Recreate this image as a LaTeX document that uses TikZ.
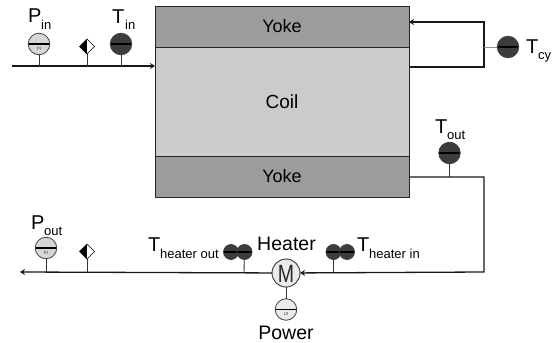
\documentclass[tikz,border=0pt]{standalone}
\usepackage{fontspec}
\setmainfont{Liberation Sans}
\usetikzlibrary{arrows.meta,shapes.geometric}
\definecolor{yokec}{HTML}{9C9C9C}
\definecolor{coilc}{HTML}{CBCBCB}
\definecolor{darkg}{HTML}{3C3C3C}
\definecolor{lightg}{HTML}{D6D6D6}
\tikzset{
  pipeline/.style={draw=black!90,line width=1.3pt},
  flowline/.style={pipeline,-{Stealth[length=5pt,width=6pt]}},
  stemline/.style={draw=black!80,line width=0.9pt},
  magnetbox/.style={draw=black!85,line width=1pt,inner sep=0pt,outer sep=0pt,font=\fontsize{18}{18}\selectfont},
  gaugebase/.style={circle,draw=black!75,line width=0.8pt,inner sep=0pt,outer sep=0pt,
    path picture={\draw[black,line width=1.1pt] (path picture bounding box.west) -- (path picture bounding box.east);}},
  bigtext/.style={inner sep=0pt,font=\fontsize{20}{20}\selectfont},
  subtext/.style={inner sep=0pt,font=\fontsize{13}{13}\selectfont},
  nametext/.style={inner sep=0pt,font=\fontsize{19.5}{20}\selectfont},
  tagtext/.style={inner sep=0pt,text=black!75,font=\fontsize{4.5}{5}\selectfont},
  gaugep/.style={gaugebase,fill=lightg,minimum size=21.5pt},
  gauget/.style={gaugebase,fill=darkg,minimum size=21.5pt},
  gaugets/.style={gaugebase,fill=darkg,minimum size=15pt},
  valvebox/.style={diamond,draw=black,line width=0.6pt,fill=white,minimum size=15pt,inner sep=0pt,outer sep=0pt,
    path picture={\fill[black] (path picture bounding box.north) -- (path picture bounding box.south) -- (path picture bounding box.south west) -- (path picture bounding box.north west) -- cycle;}},
}
\begin{document}
\begin{tikzpicture}[x=1pt,y=-1pt]
\useasboundingbox (0,0) rectangle (555,343);
% magnet
\node[magnetbox,fill=yokec,minimum width=254pt,minimum height=41pt] (yoketop) at (282,26.5) {Yoke};
\node[magnetbox,fill=coilc,minimum width=254pt,minimum height=109pt] (coil) at (282,101.5) {\fontsize{19}{19}\selectfont Coil};
\node[magnetbox,fill=yokec,minimum width=254pt,minimum height=41pt] (yokebot) at (282,176.5) {Yoke};
% free ends and junctions
\coordinate (inlet) at (12,66);
\coordinate (inend) at (155,66);
\coordinate (j1) at (39,66);
\coordinate (j2) at (87,66);
\coordinate (j3) at (121,66);
\coordinate (retTop) at (409,22);
\coordinate (retBot) at (409,67);
\coordinate (cornerTop) at (484,22);
\coordinate (cornerBot) at (484,67);
\coordinate (cyj) at (484,47);
\coordinate (outStart) at (409,177);
\coordinate (outj) at (449.5,177);
\coordinate (c1) at (484,177);
\coordinate (c2) at (484,272);
\coordinate (outlet) at (20,272);
\coordinate (j4) at (46,272);
\coordinate (j5) at (87,272);
\coordinate (j6) at (244,272);
\coordinate (j7) at (333.5,272);
% instruments
\node[gaugep] (pin) at (39,44) {}; \node[tagtext] at (39,49) {PI};
\node[valvebox] (vin) at (87,46.5) {};
\node[gauget] (tin) at (121,44) {}; \node[tagtext] at (121,49) {TI};
\node[gauget] (tcy) at (508,47) {}; \node[tagtext] at (508,52) {TI};
\node[gauget] (tout) at (449.5,153) {}; \node[tagtext] at (449.5,158) {TI};
\node[gaugep] (pout) at (46,248) {}; \node[tagtext] at (46,253) {PI};
\node[valvebox] (vout) at (87,251.5) {};
\node[gaugets] (tho2) at (231,252) {};  \node[tagtext] at (231,256) {TI};
\node[gaugets] (tho1) at (244.5,252) {}; \node[tagtext] at (244.5,256) {TI};
\node[gaugets] (thi1) at (333.5,252) {}; \node[tagtext] at (333.5,256) {TI};
\node[gaugets] (thi2) at (347,252) {};  \node[tagtext] at (347,256) {TUI};
\node[circle,draw=black!80,fill=black!8,line width=0.9pt,minimum size=28pt,inner sep=0pt,outer sep=0pt] (heater) at (286,273) {};
\node[inner sep=0pt,xscale=0.78,text=black!85,font=\fontsize{25}{25}\selectfont] at (286,273.5) {M};
\node[gaugebase,fill=black!8,minimum size=21.5pt] (power) at (286,309.5) {}; \node[tagtext] at (286,314) {UI};
% connectors
\draw[flowline] (inlet) -- (inend);
\draw[stemline] (pin) -- (j1);
\draw[stemline] (vin) -- (j2);
\draw[stemline] (tin) -- (j3);
\draw[flowline] (retBot) -- (cornerBot) -- (cornerTop) -- (retTop);
\draw[stemline,draw=black!45] (tcy) -- (cyj);
\draw[stemline] (tout) -- (outj);
\draw[flowline] (outStart) -- (c1) -- (c2) -- (heater);
\draw[flowline] (heater) -- (outlet);
\draw[stemline] (pout) -- (j4);
\draw[stemline] (vout) -- (j5);
\draw[stemline] (tho1) -- (j6);
\draw[stemline] (thi1) -- (j7);
\draw[stemline] (heater) -- (power);
% labels
\node[bigtext,anchor=base west] at (28,22.5) {P};
\node[subtext,anchor=base west] at (41,29) {in};
\node[bigtext,anchor=base west] at (112,23) {T};
\node[subtext,anchor=base west] at (125,29) {in};
\node[bigtext,anchor=base west] at (526,53) {T};
\node[subtext,anchor=base west] at (538,59) {cy};
\node[bigtext,anchor=base west] at (435,133) {T};
\node[subtext,anchor=base west] at (447,139) {out};
\node[bigtext,anchor=base west] at (31,229) {P};
\node[subtext,anchor=base west] at (44,235) {out};
\node[bigtext,anchor=base west] at (148,251) {T};
\node[subtext,anchor=base west] at (160,258) {heater out};
\node[bigtext,anchor=base west] at (357,251) {T};
\node[subtext,anchor=base west] at (369,258) {heater in};
\node[nametext,anchor=base] at (286.5,250) {Heater};
\node[nametext,anchor=base] at (286,339) {Power};
\end{tikzpicture}
\end{document}
